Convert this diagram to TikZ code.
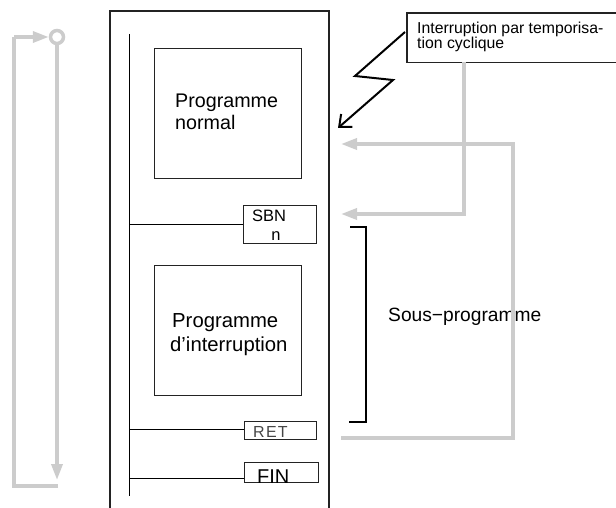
\documentclass[tikz,border=0pt]{standalone}
\usepackage{fontspec}
\setmainfont{Liberation Sans}
\usetikzlibrary{arrows.meta}
\definecolor{lg}{RGB}{204,204,204}
\definecolor{dk}{RGB}{35,35,35}
\definecolor{retc}{RGB}{70,70,70}
\begin{document}
\begin{tikzpicture}[x=1pt,y=-1pt,
  box/.style={draw=dk, line width=1.1pt, inner sep=0pt, anchor=north west},
  gflow/.style={draw=lg, line width=3.5pt},
  garrow/.style={gflow, -{Triangle[length=16pt,width=11pt]}},
  lbl/.style={inner sep=0pt, anchor=base west, text=black},
  rung/.style={draw=black, line width=0.9pt},
  frame/.style={draw=dk, line width=1.3pt}]
\useasboundingbox (0,0) rectangle (616,508);

% outer frame (open at bottom)
\coordinate (fbl) at (110,508);
\coordinate (ftl) at (110,11);
\coordinate (ftr) at (329,11);
\coordinate (fbr) at (329,508);
\draw[frame] (fbl) -- (ftl) -- (ftr) -- (fbr);

% bus
\coordinate (bustop) at (129,34);
\coordinate (busbot) at (129,496);
\draw[rung] (bustop) -- (busbot);

% program boxes
\node[box, minimum width=147pt, minimum height=130pt] (normal) at (154,48) {};
\node[lbl, align=left, anchor=north west, font=\fontsize{19.7}{22}\selectfont] (normaltxt) at (175,94) {Programme\\normal};

\node[box, minimum width=147pt, minimum height=130pt] (inter) at (154,265) {};
\node[lbl, align=left, anchor=north west, font=\fontsize{20.3}{24}\selectfont] (intertxt) at (170,313.5) {\hspace{2pt}Programme\\d’interruption};

% SBN
\node[box, minimum width=73pt, minimum height=38pt] (sbn) at (243,205) {};
\node[lbl, font=\fontsize{16.5}{18}\selectfont] (sbntxt) at (252,222) {SBN};
\node[inner sep=0pt, anchor=base, font=\fontsize{16.5}{18}\selectfont] (sbnn) at (276,240) {n};
\draw[rung] (bustop |- sbn.west) -- (sbn.west);

% RET
\node[box, minimum width=72pt, minimum height=18pt] (ret) at (244,421) {};
\node[lbl, text=retc, font=\fontsize{16}{18}\selectfont\addfontfeature{LetterSpace=8}] (rettxt) at (253,437) {RET};
\coordinate (retl) at (244,429);
\draw[rung] (bustop |- retl) -- (retl);

% FIN
\node[box, minimum width=74pt, minimum height=20pt] (fin) at (244,462) {};
\coordinate (finl) at (244,478);
\draw[rung] (bustop |- finl) -- (finl);
\node[lbl, font=\fontsize{20}{22}\selectfont] (fintxt) at (257,483) {FIN};

% bracket
\coordinate (bt1) at (350,227);
\coordinate (bt2) at (366,227);
\coordinate (bb2) at (366,422);
\coordinate (bb1) at (349,422);
\draw[line width=1.1pt, draw=black] (bt1) -- (bt2) -- (bb2) -- (bb1);
\node[lbl, font=\fontsize{19.2}{22}\selectfont] (sous) at (388,321) {Sous−programme};

% callout
\node[inner sep=0pt, anchor=north west, minimum width=209pt, minimum height=49pt] (call) at (407,13) {};
\draw[draw=dk, line width=1.1pt] (call.north east) -- (call.north west) -- (call.south west) -- (call.south east);
\node[lbl, align=left, anchor=north west, font=\fontsize{15.8}{15}\selectfont] (calltxt) at (417,21.7) {Interruption par temporisa-\\tion cyclique};

% lightning
\coordinate (zs) at (405,32);
\coordinate (z1) at (355,76);
\coordinate (z2) at (393,80);
\coordinate (ze) at (338,128);
\draw[line width=2pt, line join=miter, -{Straight Barb[length=10pt,width=17pt,line width=2pt]}] (zs) -- (z1) -- (z2) -- (ze);

% grey flows on the right
\coordinate (tn) at (341,144);
\coordinate (ts) at (341,214);
\coordinate (tr) at (341,438);
\coordinate (cx) at (464,214);
\coordinate (rx1) at (513,438);
\coordinate (rx2) at (513,144);
\draw[garrow] (call.south west -| cx) -- (cx) -- (ts);
\draw[garrow] (tr) -- (rx1) -- (rx2) -- (tn);

% grey loop on the left
\node[circle, draw=lg, line width=3.5pt, fill=white, minimum size=13pt, inner sep=0pt] (circ) at (57,37) {};
\coordinate (lt) at (14,37);
\coordinate (lb) at (14,486);
\coordinate (rb) at (58,486);
\coordinate (dn) at (57,480);
\draw[gflow] (rb) -- (lb) -- (lt);
\draw[garrow] (lt) -- (circ.west);
\draw[garrow] (circ.south) -- (dn);
\end{tikzpicture}
\end{document}
